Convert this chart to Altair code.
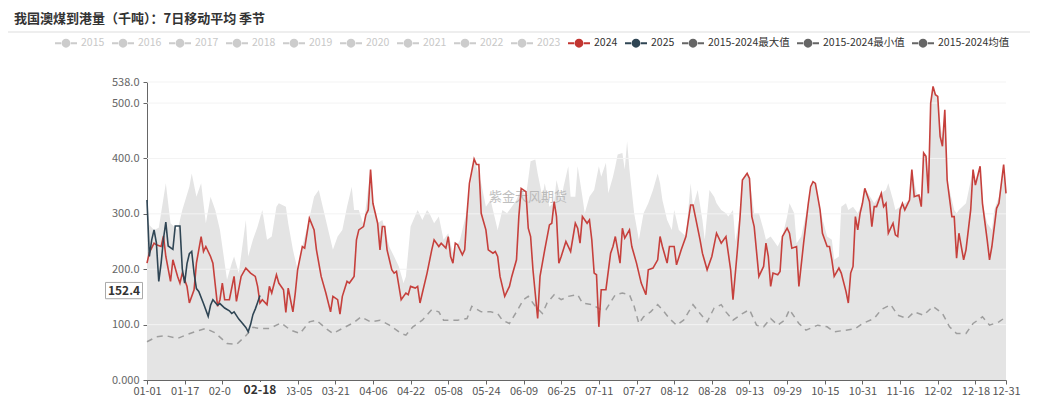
import altair as alt
import pandas as pd

FONT = "Noto Sans CJK SC"
TITLE = "我国澳煤到港量（千吨）：7日移动平均 季节"
WATERMARK = "紫金天风期货"

LEGEND_NAMES = ["2015", "2016", "2017", "2018", "2019", "2020", "2021", "2022", "2023",
                "2024", "2025", "2015-2024最大值", "2015-2024最小值", "2015-2024均值"]
LEGEND_COLORS = ["#cccccc"] * 9 + ["#c23531", "#2f4554", "#666666", "#666666", "#666666"]

# day index in the year (0 = 01-01 ... 365 = 12-31)
X_TICK_DAYS = [0, 16, 32, 48, 64, 80, 96, 112, 128, 144, 160, 176, 192, 208,
               224, 240, 256, 272, 288, 304, 320, 336, 352, 365]
Y_TICKS = [0, 100, 200, 300, 400, 500, 538]

CURSOR_DAY = 48
CURSOR_VALUE = 152.4

SERIES_2024 = [
    (0, 211), (1, 230), (3, 247), (4, 244), (6, 241), (7, 260), (8, 223), (10, 178), (11, 217),
    (13, 187), (14, 175), (15, 193), (17, 169), (18, 139), (20, 163), (21, 211), (23, 259),
    (24, 232), (25, 241), (27, 223), (28, 211), (30, 133), (31, 145), (32, 175), (33, 145),
    (35, 145), (37, 187), (38, 142), (40, 187), (42, 202), (44, 193), (46, 187), (47, 169),
    (48, 139), (49, 145), (51, 136), (52, 169), (53, 157), (55, 190), (56, 175), (58, 163),
    (59, 122), (60, 166), (62, 123), (63, 157), (64, 199), (66, 241), (67, 238), (69, 292),
    (71, 271), (72, 235), (74, 187), (76, 157), (78, 123), (79, 151), (81, 145), (82, 119),
    (83, 151), (85, 178), (86, 175), (88, 187), (89, 253), (90, 271), (92, 277), (93, 298),
    (94, 307), (95, 380), (96, 319), (98, 283), (99, 235), (100, 277), (101, 277), (102, 235),
    (104, 199), (105, 193), (106, 196), (108, 145), (110, 157), (111, 154), (112, 169),
    (114, 166), (115, 169), (116, 139), (117, 157), (119, 193), (121, 235), (122, 253),
    (124, 241), (125, 247), (127, 238), (128, 259), (129, 223), (130, 211), (131, 247),
    (132, 244), (134, 226), (135, 235), (136, 301), (137, 355), (139, 399), (140, 389),
    (141, 389), (142, 301), (144, 271), (145, 235), (147, 229), (148, 232), (149, 223),
    (150, 187), (152, 151), (154, 169), (155, 187), (157, 217), (158, 295), (159, 346),
    (161, 340), (162, 274), (163, 259), (164, 199), (166, 111), (167, 187), (169, 235),
    (171, 280), (172, 283), (173, 322), (174, 295), (175, 211), (176, 223), (178, 250),
    (180, 232), (182, 283), (183, 274), (184, 247), (185, 295), (187, 283), (188, 289),
    (189, 253), (190, 193), (191, 190), (192, 96), (193, 163), (195, 163), (197, 229),
    (198, 241), (199, 259), (201, 211), (202, 274), (203, 256), (205, 271), (206, 241),
    (208, 211), (210, 175), (212, 154), (213, 199), (215, 202), (217, 217), (218, 259),
    (219, 241), (221, 211), (222, 241), (224, 241), (225, 208), (227, 235), (229, 259),
    (231, 316), (232, 316), (233, 295), (235, 253), (236, 229), (238, 199), (240, 223),
    (242, 265), (244, 247), (246, 259), (248, 199), (249, 145), (251, 241), (252, 295),
    (253, 361), (255, 373), (256, 364), (257, 295), (258, 277), (260, 187), (262, 205),
    (263, 247), (264, 223), (265, 169), (266, 193), (268, 190), (269, 196), (270, 259),
    (272, 274), (273, 265), (274, 238), (276, 241), (277, 169), (279, 247), (281, 319),
    (282, 349), (283, 358), (284, 355), (286, 307), (287, 265), (289, 241), (290, 241),
    (291, 217), (292, 187), (294, 202), (295, 193), (297, 160), (298, 139), (299, 193),
    (300, 205), (301, 295), (302, 271), (303, 301), (304, 319), (305, 346), (307, 322),
    (308, 277), (309, 313), (310, 313), (312, 337), (313, 313), (314, 319), (315, 265),
    (317, 283), (318, 262), (319, 259), (320, 307), (321, 319), (322, 307), (324, 325),
    (325, 380), (326, 331), (328, 334), (329, 313), (330, 410), (331, 404), (332, 337),
    (333, 500), (334, 530), (335, 515), (336, 512), (337, 440), (338, 422), (339, 488),
    (340, 361), (342, 295), (343, 295), (344, 220), (345, 265), (347, 217), (348, 235),
    (350, 307), (351, 380), (352, 352), (354, 386), (355, 319), (357, 253), (358, 217),
    (359, 241), (361, 310), (362, 319), (364, 389), (365, 337),
]

SERIES_2025 = [
    (0, 325), (1, 223), (2, 253), (3, 271), (4, 247), (5, 178), (6, 211), (7, 255), (8, 285),
    (9, 242), (11, 236), (12, 278), (14, 278), (15, 200), (16, 175), (17, 210), (18, 228),
    (19, 232), (20, 193), (21, 165), (22, 160), (24, 138), (26, 115), (27, 135), (28, 145),
    (30, 135), (31, 138), (33, 130), (35, 125), (36, 120), (37, 123), (39, 110), (40, 105),
    (42, 95), (43, 87), (44, 100), (45, 118), (46, 128), (47, 140), (48, 152.4),
]

SERIES_MAX = [
    (0, 325), (1, 280), (3, 271), (5, 275), (8, 355), (10, 283), (13, 271), (15, 307),
    (18, 349), (19, 373), (21, 331), (23, 355), (25, 283), (27, 331), (29, 307), (31, 271),
    (34, 181), (36, 211), (37, 223), (39, 193), (42, 289), (43, 223), (45, 253), (47, 277),
    (49, 307), (51, 253), (53, 259), (55, 313), (56, 319), (59, 313), (60, 283), (62, 235),
    (64, 199), (66, 241), (69, 292), (71, 331), (73, 343), (75, 307), (77, 271), (79, 235),
    (81, 259), (83, 271), (85, 313), (87, 349), (88, 307), (90, 307), (92, 280), (95, 380),
    (96, 319), (98, 283), (100, 289), (103, 240), (105, 223), (107, 205), (109, 175),
    (110, 187), (112, 277), (115, 307), (117, 289), (119, 307), (120, 301), (122, 283),
    (124, 295), (126, 253), (128, 265), (130, 229), (133, 253), (136, 307), (139, 399),
    (142, 355), (144, 313), (146, 325), (147, 307), (149, 271), (151, 307), (153, 301),
    (155, 313), (157, 325), (159, 346), (161, 331), (163, 395), (165, 398), (166, 373),
    (168, 331), (169, 355), (171, 313), (173, 322), (174, 361), (176, 325), (177, 349),
    (179, 386), (180, 331), (182, 331), (183, 386), (185, 331), (186, 301), (188, 331),
    (190, 343), (192, 386), (193, 367), (195, 392), (196, 337), (198, 367), (199, 386),
    (200, 407), (202, 410), (203, 380), (204, 431), (205, 380), (207, 301), (209, 253),
    (211, 301), (213, 319), (215, 343), (217, 373), (218, 355), (219, 325), (221, 289),
    (223, 271), (224, 307), (226, 271), (229, 259), (231, 355), (232, 313), (234, 343),
    (236, 289), (237, 253), (239, 343), (241, 331), (242, 319), (244, 307), (246, 301),
    (247, 295), (249, 307), (250, 250), (252, 300), (253, 361), (255, 373), (256, 364),
    (258, 301), (260, 301), (262, 271), (263, 253), (265, 259), (268, 241), (270, 259),
    (272, 295), (273, 319), (275, 301), (276, 247), (278, 259), (281, 319), (283, 358),
    (284, 355), (286, 307), (289, 259), (291, 253), (292, 217), (294, 223), (295, 313),
    (297, 319), (298, 307), (300, 313), (302, 301), (304, 319), (305, 346), (309, 319),
    (312, 337), (314, 343), (315, 355), (317, 325), (318, 307), (320, 313), (322, 319),
    (324, 325), (325, 380), (327, 337), (329, 330), (330, 410), (331, 404), (332, 350),
    (333, 500), (334, 530), (335, 515), (336, 512), (337, 460), (338, 440), (339, 488),
    (340, 361), (343, 307), (344, 301), (345, 307), (348, 319), (351, 380), (352, 352),
    (354, 386), (355, 319), (357, 283), (359, 271), (360, 307), (362, 331), (364, 389),
    (365, 337),
]

SERIES_MEAN = [
    (0, 69), (4, 78), (8, 80), (13, 75), (17, 82), (21, 88), (25, 93), (29, 85), (34, 66),
    (38, 64), (42, 80), (45, 95), (48, 93), (52, 93), (57, 103), (61, 90), (65, 84), (69, 105),
    (72, 108), (76, 93), (79, 84), (83, 93), (88, 104), (91, 114), (95, 105), (99, 108),
    (103, 99), (108, 84), (110, 81), (113, 96), (117, 108), (121, 127), (124, 123), (126, 108),
    (132, 108), (136, 111), (138, 133), (142, 123), (146, 123), (149, 120), (151, 108),
    (154, 102), (157, 123), (160, 145), (162, 151), (165, 133), (168, 120), (170, 139),
    (173, 154), (176, 145), (179, 151), (183, 154), (185, 139), (189, 136), (193, 127),
    (195, 127), (199, 154), (202, 157), (205, 154), (207, 133), (209, 102), (211, 114),
    (214, 123), (217, 136), (219, 127), (222, 111), (225, 99), (228, 108), (232, 136),
    (235, 120), (238, 105), (241, 130), (244, 136), (246, 123), (249, 108), (253, 120),
    (256, 127), (259, 99), (262, 96), (265, 111), (268, 99), (271, 108), (273, 127), (277, 102),
    (280, 90), (285, 99), (289, 96), (292, 87), (297, 90), (301, 93), (304, 102), (309, 111),
    (312, 127), (316, 136), (319, 117), (323, 111), (326, 123), (330, 117), (334, 133),
    (338, 120), (341, 96), (344, 84), (348, 84), (351, 102), (355, 114), (358, 99), (362, 105),
    (365, 114),
]


def frame(pairs, name):
    df = pd.DataFrame(pairs, columns=["day", "value"])
    df["series"] = name
    return df


df24 = frame(SERIES_2024, "2024")
df25 = frame(SERIES_2025, "2025")
dfmax = frame(SERIES_MAX, "2015-2024最大值")
dfmean = frame(SERIES_MEAN, "2015-2024均值")

x_axis = alt.Axis(
    values=X_TICK_DAYS,
    labelExpr="datum.value == 48 ? '' : utcFormat(utc(2024, 0, 1 + datum.value), '%m-%d')",
    grid=False, domainColor="#666666", tickColor="#666666", tickSize=4,
    labelColor="#555555", labelFontSize=11, labelFont=FONT, labelPadding=1,
    labelOverlap=False, labelFlush=False, labelBound=False, title=None,
)
y_axis = alt.Axis(
    values=Y_TICKS,
    labelExpr="datum.value == 0 ? '0.000' : format(datum.value, '.1f')",
    grid=False, domainColor="#666666", tickColor="#666666", tickSize=4,
    labelColor="#666666", labelFontSize=11, labelFont=FONT, labelPadding=4,
    labelOverlap=False, title=None,
)
x_scale = alt.Scale(domain=[0, 365], nice=False, zero=False)
y_scale = alt.Scale(domain=[0, 538], nice=False)


def xe():
    return alt.X("day:Q", scale=x_scale, axis=x_axis)


def ye():
    return alt.Y("value:Q", scale=y_scale, axis=y_axis)


area = alt.Chart(dfmax).mark_area(color="#e4e4e4").encode(x=xe(), y=ye())

grid = alt.Chart(pd.DataFrame({"value": Y_TICKS[1:]})).mark_rule(
    color="#f3f3f3", strokeWidth=1
).encode(y=ye())

watermark = alt.Chart(pd.DataFrame({"t": [WATERMARK]})).mark_text(
    font=FONT, fontSize=13, color="#b0b0b0", opacity=0.8, align="center", baseline="middle"
).encode(text="t:N", x=alt.value(381), y=alt.value(115))

mean = alt.Chart(dfmean).mark_line(
    strokeDash=[6, 5], strokeWidth=1.5, color="#9e9e9e"
).encode(x=xe(), y=ye())

lines = alt.Chart(pd.concat([df24, df25])).mark_line(strokeWidth=1.6).encode(
    x=xe(), y=ye(),
    stroke=alt.Stroke("series:N", scale=alt.Scale(domain=["2024", "2025"],
                                                  range=["#c6403c", "#2f4554"]), legend=None),
)

SYMBOL = ("M-1,-0.08L-0.44,-0.08L-0.44,0.08L-1,0.08Z "
          "M0.44,-0.08L1,-0.08L1,0.08L0.44,0.08Z "
          "M0.4,0A0.4,0.4,0,1,1,-0.4,0A0.4,0.4,0,1,1,0.4,0Z")

legend_layer = alt.Chart(pd.DataFrame({"series": LEGEND_NAMES})).mark_point(
    filled=True, opacity=0, size=1
).encode(
    color=alt.Color(
        "series:N",
        scale=alt.Scale(domain=LEGEND_NAMES, range=LEGEND_COLORS),
        legend=alt.Legend(
            orient="none", legendX=-92, legendY=-50, direction="horizontal", title=None,
            symbolType=SYMBOL, symbolSize=484, symbolOpacity=1, symbolStrokeWidth=0,
            labelFont=FONT, labelFontSize=10.5, labelOffset=4, columnPadding=7, padding=0,
            labelColor={"expr": "(length(datum.label) > 4 || datum.label == '2024' || datum.label == '2025') ? '#333333' : '#c8c8c8'"},
        ),
    )
)

cursor_df = pd.DataFrame({"value": [CURSOR_VALUE], "label": [f"{CURSOR_VALUE:.1f}"]})
BOX = "M-1,-0.44L1,-0.44L1,0.44L-1,0.44Z"
cursor_box = alt.Chart(cursor_df).mark_point(
    shape=BOX, size=1369, filled=True, fill="white", stroke="#aaaaaa", strokeWidth=1,
    opacity=1, yOffset=-5
).encode(y=ye(), x=alt.value(-23))
cursor_text = alt.Chart(cursor_df).mark_text(
    font=FONT, fontSize=12, fontWeight="bold", color="#333333", align="center",
    baseline="middle", yOffset=-5
).encode(y=ye(), x=alt.value(-23), text="label:N")

xlab_df = pd.DataFrame({"day": [CURSOR_DAY], "label": ["02-18"]})
XBOX = "M-1,-0.29L1,-0.29L1,0.29L-1,0.29Z"
xlab_box = alt.Chart(xlab_df).mark_point(
    shape=XBOX, size=3136, filled=True, fill="white", strokeWidth=0, opacity=1, xOffset=-1
).encode(x=xe(), y=alt.value(308))
xlab_text = alt.Chart(xlab_df).mark_text(
    font=FONT, fontSize=12, fontWeight="bold", color="#333333", align="center", baseline="middle"
).encode(x=xe(), y=alt.value(308), text="label:N")

title = alt.Chart(pd.DataFrame({"t": [TITLE]})).mark_text(
    font=FONT, fontSize=13, fontWeight="bold", color="#333333", align="left", baseline="middle"
).encode(text="t:N", x=alt.value(-133), y=alt.value(-63))

separator = alt.Chart(pd.DataFrame({"v": [0]})).mark_rule(
    color="#dddddd", strokeWidth=1
).encode(x=alt.value(-139), x2=alt.value(883), y=alt.value(-50))

chart = alt.layer(
    area, grid, watermark, mean, lines, legend_layer,
    cursor_box, cursor_text, xlab_box, xlab_text, title, separator,
).properties(
    width=859, height=298,
    padding={"left": 139, "top": 74, "right": 40, "bottom": 20},
    autosize=alt.AutoSizeParams(type="none"),
    background="white",
).configure_view(stroke=None).configure_axis(labelOverlap=False)

chart.save("out.html", embed_options={"renderer": "svg", "actions": False})
